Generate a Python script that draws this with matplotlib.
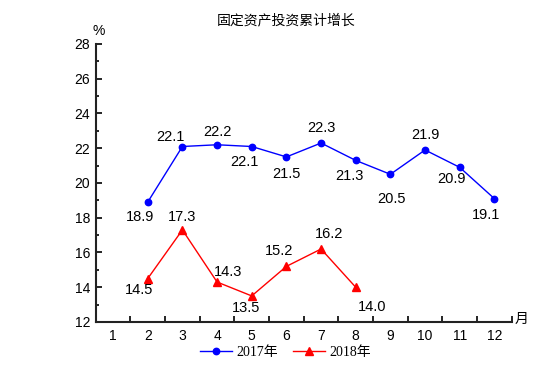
import matplotlib
matplotlib.use("Agg")
import matplotlib.pyplot as plt
from matplotlib.ticker import FixedLocator, MultipleLocator

plt.rcParams['font.family'] = ['Liberation Sans', 'Noto Sans CJK SC']

# data
months = list(range(1, 13))
m2017 = [2, 3, 4, 5, 6, 7, 8, 9, 10, 11, 12]
v2017 = [18.9, 22.1, 22.2, 22.1, 21.5, 22.3, 21.3, 20.5, 21.9, 20.9, 19.1]
m2018 = [2, 3, 4, 5, 6, 7, 8]
v2018 = [14.5, 17.3, 14.3, 13.5, 15.2, 16.2, 14.0]
# label placement: offset in points (dx, dy)
off2017 = [(-5.5, -11), (-8.5, 7), (0, 9.5), (-5, -11), (0, -12.5), (0, 11),
           (-4.5, -11), (1, -17.5), (0.5, 10.5), (-6, -8.5), (-6, -12)]
off2018 = [(-6, -8.5), (0, 9), (8, 7.5), (-4, -9), (-5, 11), (6, 11), (11.5, -14)]

fig = plt.figure(figsize=(5.55, 3.91), dpi=100)
ax = fig.add_axes([0.1725, 0.1765, 0.7495, 0.711])

ax.plot(m2017, v2017, color='#0000ff', lw=1, marker='o', ms=4.6, label='2017年')
ax.plot(m2018, v2018, color='#ff0000', lw=1, marker='^', ms=5.5, label='2018年')

for m, v, (dx, dy) in zip(m2017, v2017, off2017):
    ax.annotate(f'{v:.1f}', (m, v), xytext=(dx, dy), textcoords='offset points',
                ha='center', va='center', fontsize=10.5)
for m, v, (dx, dy) in zip(m2018, v2018, off2018):
    ax.annotate(f'{v:.1f}', (m, v), xytext=(dx, dy), textcoords='offset points',
                ha='center', va='center', fontsize=10.5)

ax.set_xlim(0.5, 12.5)
ax.set_ylim(12, 28)
ax.xaxis.set_major_locator(FixedLocator([x + 0.5 for x in range(0, 13)]))
ax.xaxis.set_minor_locator(FixedLocator(months))
ax.set_xticklabels([])
ax.set_xticklabels([str(m) for m in months], minor=True)
ax.tick_params(axis='x', which='major', direction='in', length=4, width=1.2)
ax.tick_params(axis='x', which='minor', length=0, labelsize=10, pad=5)
ax.yaxis.set_major_locator(MultipleLocator(2))
ax.yaxis.set_minor_locator(MultipleLocator(1))
ax.tick_params(axis='y', which='major', direction='in', length=4, width=1.2,
               labelsize=10, pad=4)
ax.tick_params(axis='y', which='minor', direction='in', length=2, width=1.2)

for s in ['top', 'right']:
    ax.spines[s].set_visible(False)
for s in ['left', 'bottom']:
    ax.spines[s].set_linewidth(1.5)
    ax.spines[s].set_color('#222222')

ax.text(0.006, 1.045, '%', transform=ax.transAxes, fontsize=10, ha='center', va='center')
ax.text(1.008, 0.01, '月', transform=ax.transAxes, fontsize=10, ha='left', va='center')
fig.text(0.516, 0.949, '固定资产投资累计增长', fontsize=10, ha='center', va='center',
         family=['Noto Sans CJK SC'])

ax.legend(loc='center', bbox_to_anchor=(0.457, -0.108), ncol=2, frameon=False,
          handlelength=2.3, columnspacing=1.1, handletextpad=0.3,
          prop={'family': ['Liberation Serif', 'Noto Sans CJK SC'], 'size': 10})

fig.savefig('out.png', dpi=100)
